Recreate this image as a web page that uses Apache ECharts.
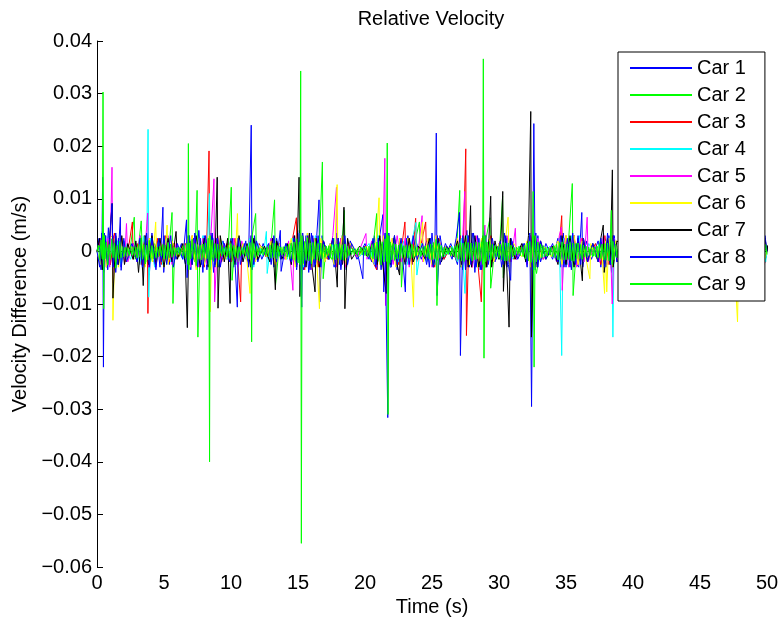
<!DOCTYPE html>
<html>
<head>
<meta charset="utf-8">
<script src="https://cdn.jsdelivr.net/npm/echarts@6/dist/echarts.min.js"></script>
<style>html,body{margin:0;padding:0;background:#fff}#c{width:783px;height:626px}</style>
</head>
<body>
<div id="c"></div>
<script>
// Velocity differences, in units of 1e-3 m/s, as [time (s), value]
const seriesNames = ['Car 1','Car 2','Car 3','Car 4','Car 5','Car 6','Car 7','Car 8','Car 9'];
const seriesColors = ['#0000ff','#00ff00','#ff0000','#00ffff','#ff00ff','#ffff00','#000000','#0000ff','#00ff00'];
const xTicks = [0,5,10,15,20,25,30,35,40,45,50];
const yTickLabels = {'40':'0.04','30':'0.03','20':'0.02','10':'0.01','0':'0','-10':'\u22120.01','-20':'\u22120.02','-30':'\u22120.03','-40':'\u22120.04','-50':'\u22120.05','-60':'\u22120.06'};

const car1 = [[0,0],[0.15,2.5],[0.3,-3.5],[0.38,4],[0.42,14.1],[0.48,-22],[0.55,3.5],[0.7,-3],[0.85,4.5],[1.0,-2.5],[1.2,3],[1.4,-4],[1.6,2.5],[1.8,-3],[2.0,2],[2.3,-1.5],[2.7,1.5],[3.0,-2],[3.2,3],[3.4,-3.5],[3.6,2.5],[3.9,-4.5],[4.1,3.5],[4.3,-2.5],[4.5,2],[4.7,-3],[4.92,8.4],[4.98,-4],[5.2,3],[5.4,-2.5],[5.6,2],[5.9,-1.5],[6.3,1.5],[6.6,-2.5],[6.8,3],[7.0,-3.5],[7.2,2.5],[7.4,-3],[7.6,4],[7.8,-2.5],[8.0,3],[8.2,-3.5],[8.5,3.5],[8.7,-4],[8.9,2.5],[9.1,-3],[9.4,2],[9.7,-1.5],[10.0,2.5],[10.2,-3],[10.5,2.5],[10.8,-2],[11.1,2],[11.3,-3],[11.51,24],[11.57,-3.5],[11.75,3],[12.0,-2],[12.4,1.5],[12.8,-1.5],[13.0,2.5],[13.2,-3],[13.4,2.5],[13.7,-1.5],[14.1,1.5],[14.5,-2.5],[14.7,3],[14.9,-3.5],[15.1,4],[15.4,-3.5],[15.6,3],[15.8,-4],[16.0,3.5],[16.2,-3],[16.4,3],[16.57,9.8],[16.63,-9.6],[16.8,3],[17.0,-2],[17.4,1.5],[17.7,-3],[17.9,3.5],[18.1,-2.5],[18.3,3],[18.6,-3.5],[18.9,2],[19.4,-1.5],[20.0,1.5],[20.5,-2],[20.7,3],[20.9,-3.5],[21.1,3],[21.34,7],[21.4,-7.7],[21.6,3.5],[21.9,-3],[22.1,2.5],[22.4,-3.5],[22.6,2.5],[22.9,-2],[23.2,3],[23.5,-2.5],[23.8,2],[24.2,-1.5],[24.6,2],[24.8,-3],[25.0,3.5],[25.2,-2.5],[25.32,22.5],[25.38,-8.4],[25.6,3],[25.9,-1.5],[26.4,1.5],[26.9,-2.5],[27.1,3],[27.3,-3.5],[27.6,4],[27.8,-3],[28.0,3.5],[28.2,-4],[28.4,3],[28.6,-3.5],[28.9,4],[29.1,-3],[29.4,2.5],[29.7,-2],[30.0,1.5],[30.2,-3],[30.4,3.5],[30.6,-3],[30.9,2.5],[31.3,-1.5],[31.8,1.5],[32.1,-3],[32.3,3.5],[32.43,-29.5],[32.6,24.3],[32.7,-3.5],[32.9,3],[33.1,-2],[33.5,1.5],[34.0,-1.5],[34.4,2.5],[34.6,-3],[34.8,3.5],[35.0,-3],[35.2,2.5],[35.4,-3.5],[35.6,3],[35.8,-2.5],[35.95,-3],[36.18,7.4],[36.25,-3],[36.5,2],[36.9,-1.5],[37.4,2],[37.6,-3],[37.8,3.5],[38.0,-3],[38.2,3],[38.4,-4],[38.6,3],[38.8,-2],[39,1.5],[41,-1.5],[43,1.5],[45,-1.5],[47,1.5],[48.5,-1.5],[49.2,2.5],[49.4,-3.5],[49.6,3],[49.8,-2.5],[50,0]];

const car2 = [[0,0],[0.3,1.5],[0.6,-2],[0.9,2],[1.2,-1.5],[1.5,2],[1.8,-2],[2.1,1.5],[2.4,-1],[2.78,6.5],[2.85,-1.5],[3.1,1],[3.3,5.8],[3.4,-1.5],[3.7,2],[4.0,-2],[4.3,1.5],[4.6,-1],[5.0,1.5],[5.3,-1.5],[5.6,7.4],[5.67,-9.9],[5.8,1],[6.1,-1],[6.4,1],[6.7,-1.5],[7.0,2],[7.3,-2],[7.47,11.6],[7.53,-16.3],[7.7,2],[8.0,-2],[8.3,1.5],[8.7,-1.5],[9.0,1.5],[9.4,-1],[9.8,1],[10.02,12.2],[10.08,-5.5],[10.3,1.5],[10.6,-1],[11.0,1],[11.3,-1.5],[11.84,7.2],[11.9,-1.5],[12.3,1],[12.7,-1],[13.0,1.5],[13.25,9.8],[13.32,-6.5],[13.6,1],[14.0,-1],[14.4,1.5],[14.8,-2],[15.1,2],[15.5,-2],[15.9,2],[16.3,-2],[16.6,1.5],[16.82,17],[16.88,-5.2],[17.1,1],[17.5,-1.5],[17.9,2],[18.2,-1.5],[18.46,7.8],[18.52,-2],[18.9,1],[19.5,-1],[20.0,1],[20.5,-1.5],[20.87,7.2],[20.95,-2],[21.3,2],[21.5,-2],[21.9,1.5],[22.3,-1.5],[22.65,2],[22.72,-6.8],[22.9,1],[23.3,-1.5],[23.7,1.5],[24.06,5.6],[24.12,-1],[24.5,1],[24.9,-1.5],[25.3,2],[25.37,-10.3],[25.5,1.5],[25.9,-1],[26.4,1],[26.8,-1.5],[27.07,11.6],[27.13,-3],[27.5,2],[27.9,-2],[28.3,1.5],[28.6,-2],[29.0,2],[29.33,6.4],[29.38,-7],[29.7,1],[30.0,-1.5],[30.27,10.5],[30.32,-5],[30.6,1.5],[31.0,-1],[31.5,1],[32.0,-1.5],[32.3,2],[32.8,-4.2],[33.1,1],[33.6,-1],[34.1,1],[34.5,-1.5],[34.8,2],[35.1,-1.5],[35.47,12.9],[35.53,-8.4],[35.8,1.5],[36.2,-1.5],[36.6,1],[37.0,-1],[37.5,1.5],[37.9,-1.5],[38.2,1],[38.6,-1],[39,1],[41,-1],[43,1],[45,-1],[47,1],[49,-1],[49.5,1.5],[50,0]];

const car3 = [[0,0],[0.3,2.5],[0.5,-3],[0.8,2],[1.0,-2.5],[1.3,3.5],[1.5,-2],[1.8,2.5],[2.1,-2],[2.4,1.5],[2.64,5.6],[2.7,-1.5],[3.0,1.5],[3.3,-2.5],[3.55,3],[3.76,2],[3.8,-11.8],[3.9,2.5],[4.2,-2],[4.5,2.5],[4.8,-2.5],[5.1,3],[5.4,-2],[5.7,1.5],[6.1,-1],[6.6,1.5],[6.9,-2.5],[7.1,3],[7.4,-2.5],[7.7,2.5],[8.0,-3],[8.2,2.5],[8.36,19.1],[8.42,-3.5],[8.6,3],[8.8,-2.5],[9.0,3],[9.3,-2],[9.7,1.5],[10.0,-2],[10.3,2.5],[10.5,-2],[10.72,-9.6],[10.8,1.5],[11.2,-1.5],[11.4,2.5],[11.7,-2.5],[12.1,1.5],[12.6,-1],[13.0,2],[13.3,-2.5],[13.6,1.5],[14.1,-1.5],[14.6,2.5],[14.88,6.4],[14.95,-2.5],[15.2,3],[15.5,-3.5],[15.7,3],[15.9,-2.5],[16.2,2.5],[16.5,-3],[16.8,2],[17.2,-1.5],[17.6,2.5],[17.9,-3],[18.2,2.5],[18.5,-3],[18.8,1.5],[19.4,-1],[20.0,1],[20.5,-1.5],[20.87,-3.5],[21.1,3],[21.3,-2.5],[21.6,3],[21.9,-3],[22.2,2.5],[22.5,-2.5],[22.8,2],[22.98,5.6],[23.05,-2],[23.3,2.5],[23.5,-2.5],[23.78,6.3],[23.85,-2],[24.2,1.5],[24.53,5.6],[24.6,-2],[24.9,2.5],[25.2,-3],[25.5,2.5],[25.9,-1.5],[26.4,1],[26.9,-2],[27.1,3],[27.3,-2.5],[27.52,19.5],[27.57,-16],[27.75,3],[28.0,-3],[28.2,2.5],[28.45,-3],[28.68,-9.6],[28.8,2.5],[29.1,-2.5],[29.4,3],[29.7,-1.5],[30.1,2],[30.4,-3],[30.7,2.5],[31.1,-1.5],[31.7,1],[32.1,-2],[32.35,3],[32.6,-3],[32.9,2],[33.3,-1.5],[33.9,1],[34.4,-2],[34.68,6.8],[34.75,-2.5],[35.0,3],[35.3,-2.5],[35.6,3],[35.9,-2.5],[36.2,2.5],[36.6,-1.5],[37.2,1.5],[37.6,-2.5],[37.9,3],[38.2,-2.5],[38.5,3],[38.8,-1.5],[40,1],[42,-1],[44,1],[46,-1],[48,1],[49.3,-2.5],[49.5,3],[49.72,8.9],[49.8,-2.5],[50,0]];

const car4 = [[0,0],[0.25,-2.5],[0.5,3],[0.75,-2],[1.0,2.5],[1.25,-3],[1.5,2],[1.8,-2.5],[2.1,2],[2.5,-1.5],[2.9,1.5],[3.2,-2.5],[3.5,3],[3.7,-2],[3.81,23.2],[3.86,-8.7],[4.0,2.5],[4.3,-3],[4.6,2],[4.9,-2.5],[5.2,2.5],[5.5,-2],[5.9,1],[6.4,-1.5],[6.8,2.5],[7.0,-3],[7.3,2],[7.6,-2.5],[7.9,3],[8.2,-2.5],[8.39,11],[8.45,-3],[8.7,2.5],[9.0,-3],[9.3,2],[9.7,-1.5],[10.1,2],[10.4,-2.5],[10.7,2],[11.1,-1.5],[11.4,2.5],[11.7,-3],[12.0,1.5],[12.4,-1],[12.64,3.8],[12.7,-4.2],[13.0,2],[13.3,-2],[13.7,1],[14.2,-1.5],[14.6,2.5],[14.9,-3],[15.1,2.5],[15.4,-3],[15.7,3.5],[16.0,-2.5],[16.3,3],[16.6,-2.5],[16.9,2],[17.3,-1.5],[17.7,2.5],[18.0,-2.5],[18.3,3],[18.6,-2.5],[19.0,1],[19.6,-1],[20.3,1.5],[20.7,-2.5],[21.0,3],[21.3,-2.5],[21.6,3.5],[21.9,-3],[22.2,2.5],[22.5,-2],[22.9,2],[23.2,-2.5],[23.5,2],[23.8,5.5],[23.87,-4.5],[24.2,1.5],[24.6,-2],[24.9,2.5],[25.2,-2.5],[25.5,2],[25.9,-1],[26.5,1],[26.9,-2],[27.2,2.5],[27.46,-8],[27.6,3],[27.8,-2.5],[28.1,3],[28.4,-3],[28.7,2.5],[29.0,-3],[29.3,2.5],[29.7,-1.5],[30.1,1.5],[30.4,-2.5],[30.7,2.5],[31.0,-1.5],[31.6,1],[32.1,-2],[32.3,3],[32.6,-3.5],[32.9,2.5],[33.3,-1],[33.8,1],[34.3,-2],[34.5,2.5],[34.68,-19.8],[34.78,2.5],[35.1,-2.5],[35.4,3],[35.7,-2.5],[36.0,3],[36.3,-2],[36.7,1.5],[37.2,-1],[37.6,2.5],[37.9,-2.5],[38.2,2.5],[38.42,2],[38.5,-16.3],[38.6,2.5],[38.8,-1.5],[39,-1],[41,1],[43,-1],[45,1],[47,-1],[49,1],[49.3,2.5],[49.55,-9],[49.7,2.5],[49.9,-2],[50,0]];

const car5 = [[0,0],[0.3,2.5],[0.55,-3],[0.8,2.5],[0.95,-3],[1.12,16],[1.18,-6],[1.35,3],[1.6,-2.5],[1.85,2.5],[2.05,-2],[2.2,5.3],[2.3,-2],[2.7,1.5],[3.0,-2],[3.2,3],[3.5,-2.5],[3.78,7.3],[3.85,-3],[4.1,2.5],[4.4,-3],[4.7,2.5],[5.0,-2.5],[5.3,3],[5.6,-2.5],[5.9,1.5],[6.4,-1],[6.8,2.5],[7.0,-3],[7.3,2.5],[7.6,-3],[7.9,2.5],[8.2,-2.5],[8.5,3],[8.73,13.8],[8.78,-9.6],[9.0,3],[9.2,-2.5],[9.5,1.5],[9.9,-2],[10.2,2.5],[10.5,-3],[10.8,2],[11.2,-1.5],[11.5,3],[11.8,-2],[12.2,1],[12.7,-1],[13.0,2.5],[13.3,-2],[13.6,1.5],[14.0,-1.5],[14.3,2],[14.62,-7.4],[14.7,2.5],[14.9,-3],[15.2,3.5],[15.5,-3],[15.8,3],[16.0,-3.5],[16.3,2.5],[16.6,-2.5],[16.9,2],[17.3,-1.5],[17.6,3],[17.87,12.2],[17.93,-3],[18.2,2.5],[18.5,-3],[18.8,1.5],[19.4,-1],[20.07,3.4],[20.15,-1.5],[20.5,2],[20.8,-3],[21.0,2.5],[21.3,-2.5],[21.48,17.7],[21.53,-10.3],[21.8,3],[22.1,-2.5],[22.4,3],[22.7,-2],[23.0,2.5],[23.3,-3],[23.6,2.5],[23.9,-1.5],[24.26,6.8],[24.32,-2],[24.7,2.5],[25.0,-3],[25.3,3],[25.6,-2.5],[26.0,1],[26.5,-1],[26.9,2.5],[27.2,-3],[27.44,11.4],[27.5,-3],[27.7,2.5],[28.0,-3],[28.3,3],[28.6,-2.5],[28.95,5],[29.0,-3],[29.3,2.5],[29.6,-2],[30.0,1.5],[30.3,-2.5],[30.6,3],[30.9,-2],[31.22,4.4],[31.3,-1.5],[31.8,1],[32.1,-2.5],[32.35,3],[32.6,-3],[32.9,2.5],[33.3,-1.5],[33.9,1],[34.3,-2],[34.5,3],[34.66,4.6],[34.72,-7.4],[34.9,2.5],[35.2,-3],[35.5,2.5],[35.8,-3],[36.1,2.5],[36.35,-2],[36.58,6.5],[36.65,-2],[37.1,1],[37.5,-2],[37.8,3],[38.1,-2.5],[38.3,2.5],[38.45,-10],[38.6,2.5],[38.8,-1.5],[39,-1],[41,1],[43,-1],[45,1],[47,-1],[49,1],[49.3,3],[49.6,-6.4],[49.8,2.5],[50,0]];

const car6 = [[0,0],[0.25,-2.5],[0.5,3],[0.7,-3],[0.95,2.5],[1.15,3],[1.19,-13.1],[1.35,2.5],[1.6,-3],[1.9,2.5],[2.2,-1.5],[2.6,1],[3.0,-1.5],[3.3,2.5],[3.6,-3],[3.9,2.5],[4.15,-2],[4.38,5.6],[4.45,-2],[4.7,2.5],[5.0,-3],[5.23,5],[5.3,-2.5],[5.6,2],[6.0,-1],[6.5,1.5],[6.8,-2.5],[7.1,3],[7.4,-3.5],[7.7,2.5],[8.0,-2.5],[8.38,3],[8.44,-11.5],[8.6,2.5],[8.9,-3],[9.2,2.5],[9.6,-1.5],[10.0,2],[10.3,-2.5],[10.48,7.2],[10.55,-2],[10.9,1.5],[11.2,-2],[11.42,-8],[11.5,2.5],[11.8,-2],[12.2,1],[12.7,-1],[13.0,2],[13.3,-2.5],[13.6,1.5],[14.1,-1.5],[14.5,2.5],[14.8,-3],[15.1,3],[15.4,-2.5],[15.7,3.5],[16.0,-3],[16.3,2.5],[16.6,-10.9],[16.7,2.5],[17.0,-2],[17.4,1.5],[17.7,-2.5],[17.92,12.7],[17.98,-2.5],[18.3,3],[18.6,-2.5],[18.9,1.5],[19.5,-1],[20.1,1],[20.6,-2],[20.85,2.5],[21.05,10.2],[21.1,-2.5],[21.4,3],[21.7,-3],[22.0,2.5],[22.3,-3],[22.6,2.5],[22.9,-2],[23.2,2.5],[23.45,-2],[23.62,-10.6],[23.7,2],[24.0,-1.5],[24.3,5.6],[24.37,-2],[24.7,2.5],[25.0,-2.5],[25.3,3],[25.6,-2.5],[26.0,1],[26.5,-1],[26.9,2.5],[27.2,-3],[27.5,3],[27.8,-2.5],[28.1,3],[28.4,-3],[28.7,2.5],[29.0,-3],[29.3,2.5],[29.6,-2],[30.0,1.5],[30.3,-2.5],[30.5,2.5],[30.68,6.5],[30.75,-2],[31.1,1.5],[31.7,-1],[32.1,2],[32.35,-3],[32.6,3],[32.9,-2.5],[33.3,1],[33.9,-1],[34.4,2],[34.7,-2.5],[35.0,3],[35.3,-2.5],[35.6,3],[35.9,-2.5],[36.2,2],[36.5,-1.5],[36.78,-5.2],[36.85,1.5],[37.3,-1.5],[37.6,2.5],[37.88,-8],[37.95,2],[38.04,-7.7],[38.2,2.5],[38.5,-3],[38.7,2],[40,1],[42,-1],[44,1],[46,-1],[47.5,1],[47.8,-13.4],[47.9,1],[49,-1],[49.4,2.5],[49.7,-2.5],[50,0]];

const car7 = [[0,0],[0.2,2.5],[0.4,-3.5],[0.6,3],[0.8,-2.5],[0.95,3],[1.13,9.1],[1.19,-8.9],[1.4,3],[1.6,-2.5],[1.85,3],[2.05,-2.5],[2.3,1.5],[2.7,-1.5],[2.9,2],[3.1,-4],[3.3,2.5],[3.45,-6.5],[3.6,3],[3.85,-2.5],[4.1,3],[4.4,-2.5],[4.7,2.5],[5.0,-3],[5.3,2.5],[5.6,-2],[5.9,3.8],[6.0,-1.5],[6.4,1.5],[6.6,-2.5],[6.74,-14.5],[6.85,3],[7.1,-2.5],[7.4,3],[7.7,-3],[8.0,2.5],[8.3,-3],[8.6,3],[8.8,-2.5],[8.97,14.1],[9.03,-10.8],[9.2,3],[9.5,-2],[9.75,2.5],[9.93,-9.9],[10.0,2],[10.3,-2.5],[10.6,3],[10.9,-2],[11.2,1.5],[11.45,-3],[11.7,2.5],[12.0,-1.5],[12.5,1],[12.9,-2],[13.1,2.5],[13.31,-7.3],[13.4,2],[13.8,-1.5],[14.2,1.5],[14.5,-2.5],[14.75,3],[14.9,-2.5],[15.08,14.1],[15.14,-8.6],[15.35,3],[15.6,-3],[15.85,3.5],[16.05,-3],[16.27,-7.7],[16.35,2.5],[16.6,-3],[16.9,2],[17.3,-1.5],[17.6,2.5],[17.8,-2.5],[17.93,-6.8],[18.0,2.5],[18.3,-2.5],[18.43,8.4],[18.5,-10.9],[18.7,2.5],[19.0,-1.5],[19.6,1],[20.2,-1],[20.6,2],[20.9,-2.5],[21.1,3],[21.35,-3],[21.58,-8],[21.65,3],[21.9,-2.5],[22.2,3],[22.4,-2.5],[22.58,-4.5],[22.65,2],[23.0,-2.5],[23.3,2.5],[23.6,-2],[24.0,1],[24.5,-1.5],[24.8,2.5],[25.1,-3],[25.45,2.5],[25.7,-2],[26.1,1],[26.6,-1],[26.9,2],[27.2,-2.5],[27.5,3],[27.7,-3],[27.88,8.7],[27.95,-3],[28.2,3],[28.5,-3],[28.8,3],[29.05,-3],[29.25,2.5],[29.38,10.5],[29.45,-3],[29.7,2],[30.0,-1.5],[30.15,2.5],[30.28,11.4],[30.33,-7.6],[30.5,2.5],[30.75,-14.4],[30.85,2.5],[31.2,-1.5],[31.7,1.5],[32.0,-2],[32.2,3],[32.37,26.6],[32.42,-16.3],[32.6,3],[32.85,-3],[33.1,2],[33.5,-1.5],[34.0,1],[34.4,-2.5],[34.7,3],[35.0,-2.5],[35.3,3],[35.6,-3],[35.9,2.5],[36.22,-5.6],[36.3,2.5],[36.6,-2],[37.0,1.5],[37.4,-2],[37.6,2.5],[37.78,5],[37.85,-4],[38.1,2.5],[38.3,-2.5],[38.46,15.5],[38.52,-3],[38.8,2],[40,-1],[42,1],[44,-1],[46,1],[48,-1],[49.3,2.5],[49.6,-3],[49.85,2.5],[50,0]];

const car8 = [[0,0],[0.2,-3],[0.35,3.5],[0.5,-4],[0.65,3],[0.8,-3.5],[0.95,2.5],[1.12,9.1],[1.2,-3],[1.4,3.5],[1.55,-2.5],[1.74,6.5],[1.8,-3.6],[2.0,2.5],[2.2,-2],[2.6,1.5],[3.0,-2],[3.2,2.5],[3.4,-3],[3.7,3.5],[3.9,-3],[4.1,2.5],[4.4,-3.5],[4.6,2.5],[4.8,-2],[5.0,3],[5.2,-2.5],[5.5,3],[5.7,-3],[6.0,1.5],[6.4,-1.5],[6.68,6],[6.72,-5],[6.9,3],[7.1,-2.5],[7.3,3.5],[7.5,-3],[7.7,2.5],[7.9,-4],[8.1,3],[8.3,-2.5],[8.6,3.5],[8.8,-3],[9.0,2.5],[9.2,-3],[9.5,1.5],[9.9,-2],[10.1,2.5],[10.3,-2],[10.47,-10.6],[10.55,2.5],[10.7,-2.5],[11.0,1.5],[11.3,-2],[11.5,3],[11.7,-2.5],[11.9,2],[12.3,-1.5],[12.8,1.5],[13.0,-2.5],[13.2,3],[13.4,-2],[13.68,4],[13.74,-3.8],[14.1,1.5],[14.5,-2],[14.7,2.5],[14.9,-3],[15.1,3.5],[15.28,-10.6],[15.35,3.5],[15.5,-3],[15.7,3],[15.9,-3.5],[16.1,3],[16.3,-2.5],[16.5,3],[16.7,-3],[16.9,2],[17.3,-1.5],[17.6,2.5],[17.8,-3],[18.0,2.5],[18.2,-3.5],[18.5,3],[18.7,-2.5],[19.0,1.5],[19.5,-1],[19.84,-5.2],[19.9,1],[20.3,-1.5],[20.6,2.5],[20.8,-3],[21.0,2.5],[21.2,-3.5],[21.5,3.5],[21.7,-31.6],[21.78,3.5],[21.95,-3],[22.2,3],[22.4,-2.5],[22.7,2.5],[23.01,-7.7],[23.1,2.5],[23.3,-2.5],[23.6,3],[23.9,-1.5],[24.3,1.5],[24.6,-2.5],[24.9,2.5],[25.1,-3],[25.4,3],[25.6,-2.5],[26.0,1.5],[26.5,-1.5],[26.8,2.5],[27.05,7.4],[27.12,-19.8],[27.3,3],[27.5,-3.5],[27.7,3],[27.9,-2.5],[28.1,3.5],[28.3,-3],[28.5,2.5],[28.7,-3.5],[29.0,3],[29.2,-2.5],[29.5,2.5],[29.8,-1.5],[30.1,2],[30.3,-2.5],[30.5,3],[30.7,-2.5],[30.87,-5.5],[30.95,2],[31.4,-1.5],[31.9,1.5],[32.1,-2.5],[32.3,3],[32.5,-3.5],[32.75,3.5],[32.9,-3],[33.1,2],[33.5,-1.5],[34.0,1.5],[34.4,-2],[34.6,3],[34.85,-3],[35.1,2.5],[35.3,-3],[35.5,3.5],[35.7,-2.5],[35.9,3],[36.1,-2.5],[36.3,2.5],[36.6,-2],[37.0,1.5],[37.4,-2],[37.6,2.5],[37.9,-3],[38.1,3.5],[38.3,-2.5],[38.55,3],[38.8,-2],[39,-1.5],[41,1.5],[43,-1.5],[45,1.5],[47,-1.5],[49,1.5],[49.3,-3],[49.5,3.5],[49.7,-3],[49.85,3],[50,0]];

const car9 = [[0,0],[0.1,1.2],[0.2,-1.6],[0.3,2.2],[0.4,-1.5],[0.45,30.3],[0.5,-10.9],[0.55,3],[0.6,-1.4],[0.7,1.8],[0.8,-2.6],[0.9,1.3],
[1.0,-1.5],[1.1,2.4],[1.2,-1.2],[1.3,1.6],[1.4,-3.2],[1.5,1.1],[1.6,-1.4],[1.7,1.9],[1.8,-1.2],[1.9,0.9],
[2.0,-1.1],[2.1,0.8],[2.2,-0.9],[2.3,0.7],[2.4,-0.8],[2.5,1],[2.6,-0.7],[2.7,0.9],[2.8,-1],[2.9,0.8],
[3.0,-1.2],[3.1,1.4],[3.2,-1.1],[3.3,2.6],[3.4,-1.5],[3.5,1.3],[3.6,-2.4],[3.7,1.2],[3.8,-1.6],[3.9,2.1],
[4.0,-1.3],[4.1,1.1],[4.2,-1.4],[4.3,0.9],[4.4,-1.2],[4.5,0.8],[4.6,-0.7],[4.7,1],[4.8,-0.9],[4.9,1.3],
[5.0,-1.4],[5.1,1.2],[5.2,-1.5],[5.3,1.7],[5.4,-1.2],[5.5,1.4],[5.6,-1.1],[5.7,0.9],[5.8,-0.8],[5.9,0.7],
[6.0,-0.6],[6.1,0.8],[6.2,-0.7],[6.3,0.6],[6.4,-0.9],[6.5,1.1],[6.6,-1.3],[6.7,1.5],[6.78,-2.5],[6.82,20.5],[6.86,-3.5],[6.9,1.6],
[7.0,-1.4],[7.1,2.3],[7.2,-1.2],[7.3,1.5],[7.4,-2.7],[7.5,1.3],[7.6,-1.5],[7.7,1.2],[7.8,-1.6],[7.9,1.4],
[8.0,-1.2],[8.1,1.6],[8.2,-1.4],[8.3,2.5],[8.36,-2.5],[8.4,-40],[8.44,3],[8.5,-1.6],[8.6,2.2],[8.7,-1.9],[8.8,1.5],[8.9,-1.3],
[9.0,1.4],[9.1,-1.6],[9.2,1.1],[9.3,-0.9],[9.4,0.8],[9.5,-0.7],[9.6,0.9],[9.7,-1],[9.8,1.2],[9.9,-1.3],
[10.0,1.5],[10.1,-1.7],[10.2,1.2],[10.3,-1],[10.4,0.9],[10.5,-1.3],[10.6,0.9],[10.7,-0.8],[10.8,0.7],[10.9,-0.6],
[11.0,0.8],[11.1,-0.9],[11.2,1.1],[11.3,-1.4],[11.4,1.7],[11.5,-1.5],[11.54,-17.2],[11.58,3],[11.6,-1.6],[11.7,1.5],[11.8,-1.2],[11.9,1],
[12.0,-0.8],[12.1,0.7],[12.2,-0.6],[12.3,0.6],[12.4,-0.7],[12.5,0.6],[12.6,-0.8],[12.7,0.9],[12.8,-1],[12.9,1.2],
[13.0,-1.3],[13.1,1.5],[13.2,-1.2],[13.3,1.6],[13.4,-1.4],[13.5,1.1],[13.6,-0.9],[13.7,0.8],[13.8,-0.7],[13.9,0.9],
[14.0,-0.8],[14.1,1],[14.2,-1.1],[14.3,1.3],[14.4,-1.4],[14.5,1.6],[14.6,-1.5],[14.7,1.8],[14.8,-1.7],[14.9,2.4],
[15.0,-2.2],[15.1,1.8],[15.15,-2.5],[15.2,34.3],[15.25,-55.5],[15.3,3],[15.4,-2.3],[15.5,1.9],[15.6,-1.7],[15.7,2.6],[15.8,-1.8],[15.9,1.6],
[16.0,-2.4],[16.1,1.7],[16.2,-1.5],[16.3,1.9],[16.4,-1.6],[16.5,1.5],[16.6,-1.8],[16.7,1.6],[16.8,-1.4],[16.9,1.3],
[17.0,-1.1],[17.1,1],[17.2,-0.9],[17.3,1.1],[17.4,-1.2],[17.5,1.3],[17.6,-1.5],[17.7,1.3],[17.8,-1.6],[17.9,1.4],
[18.0,-1.3],[18.1,1.5],[18.2,-1.6],[18.3,1.3],[18.4,-1.7],[18.5,1.4],[18.6,-1.2],[18.7,1],[18.8,-0.8],[18.9,0.7],
[19.0,-0.6],[19.1,0.6],[19.2,-0.7],[19.3,0.5],[19.4,-0.6],[19.5,0.7],[19.6,-0.6],[19.7,0.8],[19.8,-0.7],[19.9,0.8],
[20.0,-0.8],[20.1,0.9],[20.2,-1],[20.3,1],[20.4,-1.2],[20.5,1.3],[20.6,-1.4],[20.7,1.6],[20.8,-1.5],[20.9,1.8],
[21.0,-1.7],[21.1,1.9],[21.2,-2.6],[21.3,1.8],[21.4,-2],[21.5,2.4],[21.6,-1.9],[21.66,20.6],[21.72,-31],[21.78,3],[21.85,-2.2],[21.9,1.8],
[22.0,-1.6],[22.1,1.5],[22.2,-1.7],[22.3,1.4],[22.4,-1.4],[22.5,1.2],[22.6,-1.4],[22.7,1.5],[22.8,-1.2],[22.9,1.1],
[23.0,-1],[23.1,1.2],[23.2,-1.3],[23.3,1.1],[23.4,-1.4],[23.5,1.4],[23.6,-1.2],[23.7,1],[23.8,-0.9],[23.9,0.8],
[24.0,-0.7],[24.1,0.6],[24.2,-0.8],[24.3,0.8],[24.4,-0.8],[24.5,1],[24.6,-1.1],[24.7,1.2],[24.8,-1.4],[24.9,1.4],
[25.0,-1.6],[25.1,1.7],[25.2,-1.5],[25.3,2.3],[25.4,-1.7],[25.5,1.5],[25.6,-1.3],[25.7,1.1],[25.8,-1],[25.9,0.8],
[26.0,-0.6],[26.1,0.7],[26.2,-0.6],[26.3,0.6],[26.4,-0.8],[26.5,0.7],[26.6,-0.8],[26.7,1],[26.8,-1.1],[26.9,1.3],
[27.0,-1.5],[27.1,1.7],[27.2,-1.8],[27.3,1.6],[27.4,-1.9],[27.5,1.8],[27.6,-1.6],[27.7,1.7],[27.8,-1.4],[27.9,1.6],
[28.0,-1.8],[28.1,1.5],[28.2,-1.6],[28.3,1.8],[28.4,-1.4],[28.5,1.7],[28.6,-1.9],[28.7,1.8],[28.78,-2.5],[28.83,36.6],[28.88,-20.3],[28.95,3],
[29.0,-2],[29.1,1.8],[29.2,-1.7],[29.3,1.9],[29.4,-1.6],[29.5,1.4],[29.6,-1.3],[29.7,1.1],[29.8,-1],[29.9,1],
[30.0,-1.2],[30.1,1.4],[30.2,-1.6],[30.3,1.7],[30.4,-1.8],[30.5,1.6],[30.6,-1.8],[30.7,1.6],[30.8,-1.4],[30.9,1.2],
[31.0,-1],[31.1,0.8],[31.2,-0.7],[31.3,0.8],[31.4,-0.6],[31.5,0.7],[31.6,-0.8],[31.7,0.9],[31.8,-1],[31.9,1.2],
[32.0,-1.4],[32.1,1.6],[32.2,-1.8],[32.3,1.9],[32.4,-2.1],[32.5,2],[32.55,11.4],[32.62,-22],[32.7,3],[32.8,-2],[32.9,1.8],
[33.0,-1.6],[33.1,1.4],[33.2,-1.3],[33.3,1.1],[33.4,-1],[33.5,0.8],[33.6,-0.9],[33.7,0.8],[33.8,-0.7],[33.9,0.8],
[34.0,-1],[34.1,1.1],[34.2,-1.2],[34.3,1.4],[34.4,-1.6],[34.5,1.7],[34.6,-1.5],[34.7,1.8],[34.8,-1.6],[34.9,1.4],
[35.0,-1.6],[35.1,1.4],[35.2,-1.5],[35.3,1.7],[35.4,-1.8],[35.5,1.6],[35.6,-1.8],[35.7,1.5],[35.8,-1.4],[35.9,1.6],
[36.0,-1.4],[36.1,1.3],[36.2,-1.5],[36.3,1.2],[36.4,-1.1],[36.5,1],[36.6,-1],[36.7,0.8],[36.8,-0.8],[36.9,0.7],
[37.0,-0.8],[37.1,0.8],[37.2,-1],[37.3,1],[37.4,-1.2],[37.5,1.3],[37.6,-1.4],[37.7,1.4],[37.8,-1.6],[37.9,1.5],
[38.0,-1.7],[38.1,1.6],[38.2,-1.8],[38.3,1.7],[38.38,7.8],[38.45,-2.5],[38.5,1.9],[38.6,-1.6],[38.7,1.4],[38.8,-1.2],[38.9,1],
[39.2,-0.9],[39.6,0.8],[40,-0.7],[41,0.7],[42,-0.7],[43,0.7],[44,-0.7],[45,0.7],[46,-0.7],[47,0.7],[48,-1],[48.6,0.9],
[49.0,-1],[49.1,1.2],[49.2,-1.4],[49.3,1.6],[49.4,-1.5],[49.5,1.7],[49.6,-1.6],[49.7,1.5],[49.8,-1.7],[49.9,1.3],[50,-0.6]];

const allData = [car1, car2, car3, car4, car5, car6, car7, car8, car9];
const FONT = '"Liberation Sans", Arial, Helvetica, sans-serif';

const chart = echarts.init(document.getElementById('c'), null, {renderer: 'canvas'});
chart.setOption({
  animation: false,
  backgroundColor: '#ffffff',
  title: {
    text: 'Relative Velocity',
    left: 426, top: 4, textAlign: 'center',
    textStyle: {fontFamily: FONT, fontSize: 20, fontWeight: 'normal', color: '#000'}
  },
  grid: {left: 97, right: 16, top: 41, bottom: 59, containLabel: false},
  legend: {
    orient: 'vertical', left: 618, top: 52,
    backgroundColor: '#ffffff', borderColor: '#000', borderWidth: 1,
    padding: [6, 19, 7, 12], itemGap: 7,
    itemWidth: 62, itemHeight: 2, icon: 'rect',
    textStyle: {fontFamily: FONT, fontSize: 20, color: '#000', lineHeight: 20},
    data: seriesNames.map((n, i) => ({name: n, icon: 'rect', itemStyle: {color: seriesColors[i], borderWidth: 0}}))
  },
  xAxis: {
    type: 'value', min: 0, max: 50, interval: 5,
    name: 'Time (s)', nameLocation: 'middle', nameGap: 30,
    nameTextStyle: {fontFamily: FONT, fontSize: 20, color: '#000'},
    axisLine: {lineStyle: {color: '#000', width: 1}},
    axisTick: {inside: true, length: 6, lineStyle: {color: '#000'}},
    axisLabel: {fontFamily: FONT, fontSize: 20, color: '#000', margin: 6,
      formatter: v => xTicks.includes(v) ? String(v) : ''},
    splitLine: {show: false}
  },
  yAxis: {
    type: 'value', min: -60, max: 40, interval: 10,
    name: 'Velocity Difference (m/s)', nameLocation: 'middle', nameGap: 53,
    nameTextStyle: {fontFamily: FONT, fontSize: 20, color: '#000'},
    axisLine: {show: true, lineStyle: {color: '#000', width: 1}},
    axisTick: {show: true, inside: true, length: 6, lineStyle: {color: '#000'}},
    axisLabel: {fontFamily: FONT, fontSize: 20, color: '#000', margin: 5,
      formatter: v => yTickLabels[String(v)] || ''},
    splitLine: {show: false}
  },
  series: allData.map((d, i) => ({
    name: seriesNames[i], type: 'line', data: d,
    showSymbol: false, symbol: 'none',
    color: seriesColors[i],
    lineStyle: {color: seriesColors[i], width: 1},
    z: 2
  }))
});
</script>
</body>
</html>
